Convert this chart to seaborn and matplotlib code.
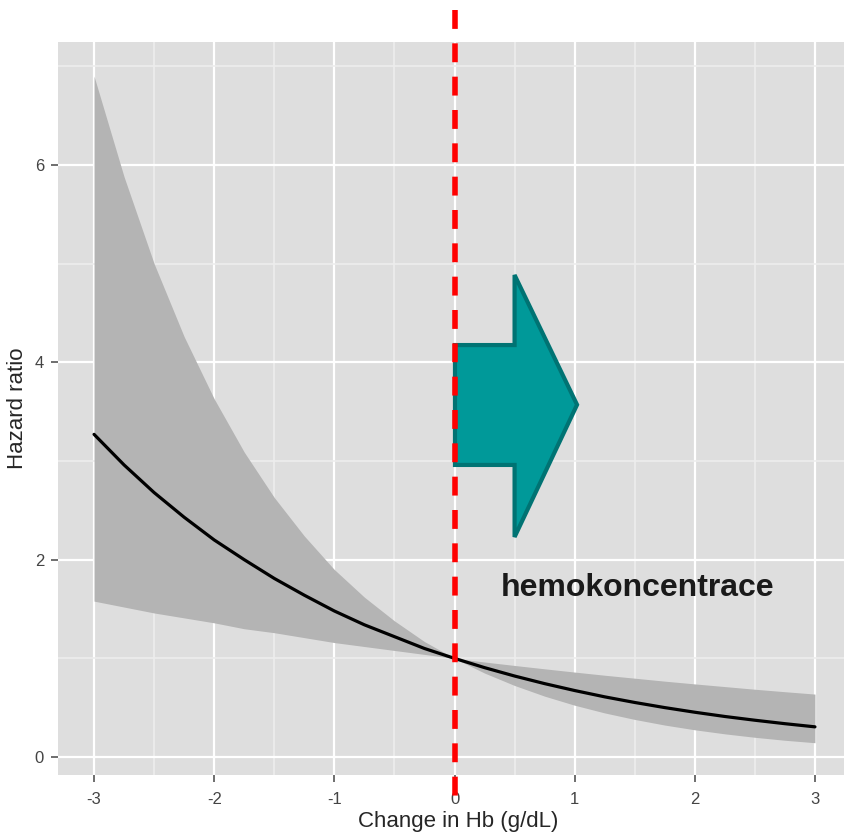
import numpy as np
import pandas as pd
import matplotlib
matplotlib.use("Agg")
import matplotlib.pyplot as plt
from matplotlib.patches import Polygon
import seaborn as sns

# values
hb_change = [-3.0, -2.75, -2.5, -2.25, -2.0, -1.75, -1.5, -1.25, -1.0, -0.75, -0.5, -0.25,
             0.0, 0.25, 0.5, 0.75, 1.0, 1.25, 1.5, 1.75, 2.0, 2.25, 2.5, 2.75, 3.0]
hazard_ratio = [3.27, 2.96, 2.68, 2.43, 2.20, 2.00, 1.81, 1.64, 1.48, 1.34, 1.22, 1.10,
                1.00, 0.906, 0.821, 0.744, 0.674, 0.610, 0.553, 0.501, 0.454, 0.411, 0.373, 0.338, 0.306]
ci_lower = [1.58, 1.52, 1.46, 1.41, 1.36, 1.30, 1.26, 1.21, 1.16, 1.12, 1.08, 1.04,
            1.00, 0.851, 0.725, 0.617, 0.525, 0.447, 0.381, 0.324, 0.276, 0.235, 0.200, 0.170, 0.145]
ci_upper = [6.90, 5.88, 5.00, 4.26, 3.63, 3.09, 2.63, 2.24, 1.90, 1.62, 1.38, 1.17,
            1.00, 0.963, 0.928, 0.894, 0.861, 0.829, 0.799, 0.769, 0.741, 0.714, 0.687, 0.662, 0.638]

x_ticks = [-3, -2, -1, 0, 1, 2, 3]
y_ticks = [0, 2, 4, 6]

# arrow outline (data coords): shaft + head pointing right
arrow_x = [0.004, 0.50, 0.50, 1.02, 0.50, 0.50, 0.004]
arrow_y = [4.175, 4.175, 4.885, 3.57, 2.23, 2.96, 2.96]

df = pd.DataFrame({"hb": hb_change, "hr": hazard_ratio, "lo": ci_lower, "hi": ci_upper})

sns.set_theme(style="darkgrid", rc={
    "axes.facecolor": "#DEDEDE",
    "grid.color": "white",
})
plt.rcParams["font.family"] = ["Liberation Sans", "DejaVu Sans"]

fig = plt.figure(figsize=(8.45, 8.32), dpi=100)
ax = fig.add_axes([58 / 845, 1 - 775 / 832, 800 / 845, 733 / 832])

ax.fill_between(df["hb"], df["lo"], df["hi"], color="#B4B4B4", linewidth=0, zorder=2)
sns.lineplot(data=df, x="hb", y="hr", color="black", linewidth=2.3, ax=ax, zorder=3)

ax.add_patch(Polygon(list(zip(arrow_x, arrow_y)), closed=True, facecolor="#009999",
                     edgecolor="#007373", linewidth=3, joinstyle="miter", zorder=4))

ax.plot([0, 0], [7.57, -0.456], color="#FF0000", linewidth=4,
        linestyle=(0, (3.4, 2.6)), dash_capstyle="butt", clip_on=False, zorder=5)

ax.text(0.385, 1.71, "hemokoncentrace", fontsize=23, fontweight="bold",
        color="#1A1A1A", ha="left", va="center", zorder=6)

# panel right edge runs past the image edge (cropped in the original)
ax.set_xlim(-3.3, 3.3 + 7 / 120.17)
ax.set_ylim(-0.182, 7.246)
ax.set_xticks(x_ticks)
ax.set_xticklabels([str(t) for t in x_ticks])
ax.set_yticks(y_ticks)
ax.set_xticks([-2.5, -1.5, -0.5, 0.5, 1.5, 2.5], minor=True)
ax.set_yticks([1, 3, 5, 7], minor=True)
ax.grid(which="major", color="white", linewidth=1.6)
ax.grid(which="minor", color="#EDEDED", linewidth=1.2)
ax.set_axisbelow(True)
for s in ax.spines.values():
    s.set_visible(False)

ax.tick_params(axis="both", which="major", length=5, width=1.2, color="#555555",
               labelsize=12, labelcolor="#444444", bottom=True, left=True)
ax.tick_params(axis="x", which="major", pad=7)
ax.tick_params(axis="y", which="major", pad=5)
ax.tick_params(axis="both", which="minor", length=0)

ax.set_xlabel("Change in Hb (g/dL)", fontsize=16, labelpad=3)
ax.set_ylabel("Hazard ratio", fontsize=16, labelpad=5)

fig.savefig("out.png", dpi=100)
